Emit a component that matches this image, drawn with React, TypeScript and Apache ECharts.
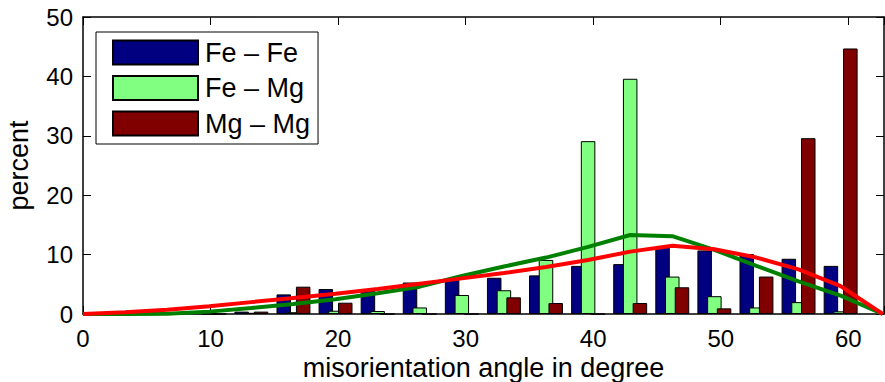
import React, { useEffect, useRef } from "react";
import * as echarts from "echarts";

const binCenters = [3.3, 6.6, 9.9, 13.2, 16.5, 19.8, 23.1, 26.4, 29.7, 33.0, 36.3, 39.6, 42.9, 46.2, 49.5, 52.8, 56.1, 59.4];
const feFe = [0, 0, 0.1, 0.4, 3.3, 4.2, 4.0, 5.3, 5.8, 6.1, 6.5, 8.1, 8.4, 11.3, 10.7, 10.1, 9.3, 8.1];
const feMg = [0, 0, 0, 0.2, 0.3, 0.55, 0.5, 1.1, 3.2, 4.0, 9.1, 29.1, 39.6, 6.3, 3.0, 1.1, 2.0, 0.45];
const mgMg = [0, 0, 0, 0.4, 4.6, 1.9, 0, 0, 0, 2.8, 1.85, 0, 1.85, 4.5, 0.95, 6.3, 29.6, 44.7];

const curveX = [0, 3.3, 6.6, 9.9, 13.2, 16.5, 19.8, 23.1, 26.4, 29.7, 33.0, 36.3, 39.6, 42.9, 46.2, 49.5, 52.8, 56.1, 59.4, 62.7];
const greenCurve = [0, 0, 0.05, 0.4, 1.0, 1.7, 2.5, 3.5, 4.6, 6.4, 8.0, 9.5, 11.3, 13.3, 13.1, 10.8, 8.1, 5.5, 3.1, 0];
const redCurve = [0, 0.3, 0.7, 1.3, 2.0, 2.7, 3.4, 4.2, 5.1, 6.0, 6.9, 7.9, 9.1, 10.5, 11.5, 10.9, 9.5, 7.5, 4.7, 0];

const xTicks = [0, 10, 20, 30, 40, 50, 60];
const yTicks = [0, 10, 20, 30, 40, 50];
const seriesNames = ["Fe \u2013 Fe", "Fe \u2013 Mg", "Mg \u2013 Mg"];

const FONT = "'Liberation Sans', Arial, Helvetica, sans-serif";

export default function App() {
  const ref = useRef<HTMLDivElement>(null);
  useEffect(() => {
    if (!ref.current) return;
    const chart = echarts.init(ref.current, null, { renderer: "svg" });
    const pair = (xs: number[], ys: number[]) => xs.map((x, i) => [x, ys[i]]);
    const barCommon = {
      type: "bar",
      barWidth: 14.5,
      barGap: "-33%",
      itemStyle: { borderColor: "#000", borderWidth: 1 },
    };
    chart.setOption({
      animation: false,
      textStyle: { fontFamily: FONT },
      grid: { left: 83, right: 1, top: 17, bottom: 68, containLabel: false, outerBoundsMode: "none" },
      legend: {
        left: 96,
        top: 32,
        orient: "vertical",
        data: seriesNames,
        icon: "rect",
        itemWidth: 85,
        itemHeight: 24,
        itemGap: 8.5,
        padding: [7, 8, 7, 16],
        borderColor: "#000",
        borderWidth: 1,
        backgroundColor: "#fff",
        textStyle: { fontSize: 27, lineHeight: 24, color: "#000", fontFamily: FONT, padding: [0, 0, 0, 2] },
        selectedMode: false,
      },
      xAxis: [
        {
          type: "value",
          min: 0,
          max: 62.8,
          interval: 10,
          name: "misorientation angle in degree",
          nameLocation: "middle",
          nameGap: 37,
          nameTextStyle: { fontSize: 27, color: "#000", fontFamily: FONT },
          axisLine: { show: true, lineStyle: { color: "#000", width: 1.5 } },
          axisTick: { show: true, inside: true, length: 8, lineStyle: { color: "#000" } },
          axisLabel: {
            fontSize: 24,
            color: "#000",
            margin: 12,
            fontFamily: FONT,
            formatter: (v: number) => (xTicks.includes(v) ? String(v) : ""),
          },
          splitLine: { show: false },
        },
        {
          type: "value",
          position: "top",
          min: 0,
          max: 62.8,
          interval: 10,
          axisLine: { show: true, onZero: false, lineStyle: { color: "#000", width: 1.5 } },
          axisTick: { show: true, inside: true, length: 8, lineStyle: { color: "#000" } },
          axisLabel: { show: false },
          splitLine: { show: false },
        },
      ],
      yAxis: [
        {
          type: "value",
          min: 0,
          max: 50,
          interval: 10,
          name: "percent",
          nameLocation: "middle",
          nameGap: 51,
          nameTextStyle: { fontSize: 27, color: "#000", fontFamily: FONT },
          axisLine: { show: true, lineStyle: { color: "#000", width: 1.5 } },
          axisTick: { show: true, inside: true, length: 8, lineStyle: { color: "#000" } },
          axisLabel: {
            fontSize: 24,
            color: "#000",
            margin: 10,
            fontFamily: FONT,
            formatter: (v: number) => (yTicks.includes(v) ? String(v) : ""),
          },
          splitLine: { show: false },
        },
        {
          type: "value",
          position: "right",
          min: 0,
          max: 50,
          interval: 10,
          axisLine: { show: true, onZero: false, lineStyle: { color: "#000", width: 1.5 } },
          axisTick: { show: true, inside: true, length: 8, lineStyle: { color: "#000" } },
          axisLabel: { show: false },
          splitLine: { show: false },
        },
      ],
      series: [
        { ...barCommon, name: seriesNames[0], data: pair(binCenters, feFe), itemStyle: { ...barCommon.itemStyle, color: "#000080" } },
        { ...barCommon, name: seriesNames[1], data: pair(binCenters, feMg), itemStyle: { ...barCommon.itemStyle, color: "#80ff80" } },
        { ...barCommon, name: seriesNames[2], data: pair(binCenters, mgMg), itemStyle: { ...barCommon.itemStyle, color: "#800000" } },
        {
          type: "line",
          name: "fit Fe-Mg",
          data: pair(curveX, greenCurve),
          showSymbol: false,
          clip: false,
          z: 5,
          lineStyle: { color: "#008000", width: 4 },
          itemStyle: { color: "#008000" },
        },
        {
          type: "line",
          name: "fit Mg-Mg",
          data: pair(curveX, redCurve),
          showSymbol: false,
          clip: false,
          z: 6,
          lineStyle: { color: "#ff0000", width: 4 },
          itemStyle: { color: "#ff0000" },
        },
      ],
    });
    return () => chart.dispose();
  }, []);
  return (
    <div
      ref={ref}
      style={{ position: "fixed", left: 0, top: 0, width: 885, height: 382, background: "#fff" }}
    />
  );
}
